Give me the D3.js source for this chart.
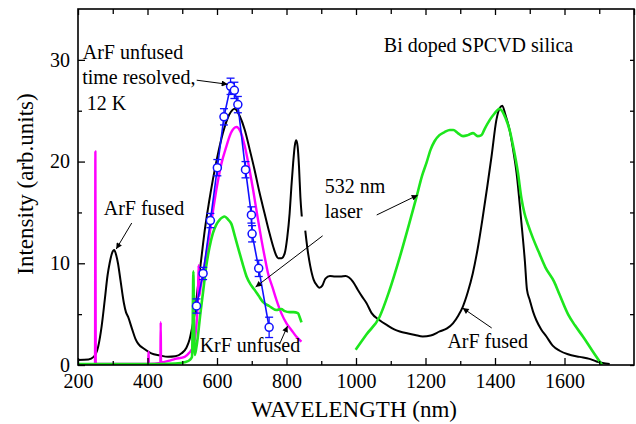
<!DOCTYPE html>
<html>
<head>
<meta charset="utf-8">
<script src="https://cdn.jsdelivr.net/npm/d3@7"></script>
<style>
  body { margin: 0; background: #fff; }
  text { font-family: "Liberation Serif", "Times New Roman", serif; fill: #000; }
</style>
</head>
<body>
<svg id="chart" width="636" height="424"></svg>
<script>
// ---- Spectra: [wavelength nm, intensity arb. units] ----
// ArF fused (black), UV + visible part
const arfFusedVis = [
  [200,0.5],[230,0.55],[245,0.8],[258,1.8],[268,3.8],[277,6.4],[285,8.8],[291,10.0],[298,11.0],[304,11.3],
  [310,10.8],[315,10.0],[322,8.4],[332,6.1],[338,5.2],[344,4.75],[355,3.6],[365,2.6],[373,2.1],[390,1.6],
  [411,1.15],[435,0.95],[459,0.8],[480,0.85],[498,1.15],[512,1.7],[521,2.5],[528,3.6],[536,5.1],[545,7.7],
  [555,10.5],[565,13.3],[577,16.0],[588,18.2],[600,20.3],[617,22.8],[635,24.6],[651,25.2],[665,24.5],[680,23.1],
  [694,21.2],[708,19.2],[722,17.0],[737,14.9],[750,13.1],[762,11.6],[770,10.8],[776,10.5],[786,10.5],[795,11.0],
  [802,12.5],[809,14.9],[814,17.5],[819,19.8],[824,21.6],[828,22.1],[832,21.5],[836,19.5],[840,16.5],[844,14.6]
];
// ArF fused (black), near-IR part
const arfFusedIR = [
  [854,13.2],[860,11.5],[868,9.8],[878,8.4],[888,7.8],[895,7.6],[903,7.8],[912,8.5],[925,8.75],[940,8.7],
  [955,8.7],[970,8.75],[980,8.6],[991,8.2],[1005,7.4],[1018,6.7],[1030,6.1],[1045,5.1],[1068,4.4],[1090,3.9],
  [1110,3.5],[1126,3.3],[1150,3.1],[1170,2.95],[1192,2.8],[1215,2.9],[1241,3.3],[1262,3.6],[1279,4.1],[1295,4.9],
  [1307,5.7],[1322,7.2],[1336,9.0],[1352,11.8],[1365,14.6],[1378,17.6],[1390,20.5],[1404,24.1],[1414,25.3],[1421,25.5],
  [1430,24.6],[1442,23.1],[1452,21.2],[1462,18.9],[1476,14.0],[1486,10.2],[1492,7.4],[1500,6.4],[1510,5.2],[1519,4.4],
  [1533,3.5],[1548,2.8],[1566,1.9],[1586,1.4],[1610,1.05],[1644,0.8],[1672,0.6],[1692,0.35],[1710,0.2],[1730,0.1]
];
// KrF unfused (magenta)
const krfUnfused = [
  [245,0.05],[249,0.1],[250,21.0],[251,0.3],[253,0.1],[300,0.1],[400,0.1],[402,0.1],[403,1.3],[404,0.1],
  [437,0.2],[438,4.2],[439,0.25],[460,0.4],[480,0.6],[507,0.8],[520,1.2],[531,1.8],[538,3.0],[545,6.4],
  [547,9.8],[549,6.8],[553,7.7],[560,9.0],[570,11.0],[579,12.95],[590,15.5],[598,17.2],[612,19.7],[627,21.5],
  [640,22.8],[656,23.4],[668,22.9],[680,21.5],[692,19.5],[704,17.2],[716,14.7],[728,12.3],[738,10.5],[747,9.0],
  [760,7.6],[771,6.4],[785,5.1],[800,4.1],[815,3.4],[828,2.8],[843,2.3]
];
// 532 nm laser excitation (green), visible part
const laser532Vis = [
  [200,0.1],[300,0.1],[400,0.1],[480,0.15],[510,0.3],[522,0.5],[528,0.8],[530,4.0],[532,9.2],[534,4.0],
  [536,1.0],[540,1.6],[545,2.8],[550,4.4],[560,7.2],[569,9.7],[578,11.5],[588,12.95],[598,13.8],[608,14.3],
  [615,14.5],[622,14.6],[632,14.3],[641,13.9],[652,12.6],[665,11.0],[675,9.8],[685,8.7],[697,7.9],[708,7.4],
  [720,6.8],[732,6.2],[750,5.8],[771,5.4],[785,5.5],[795,5.3],[809,5.2],[820,5.2],[833,5.1],[838,4.7],[843,4.2]
];
// 532 nm laser excitation (green), near-IR part
const laser532IR = [
  [999,1.5],[1030,3.0],[1068,4.75],[1095,7.2],[1126,10.6],[1150,13.5],[1174,16.5],[1190,18.6],[1203,19.9],[1215,21.2],
  [1226,22.0],[1240,22.6],[1255,22.9],[1270,23.1],[1280,23.1],[1293,22.8],[1308,22.5],[1322,22.6],[1337,22.8],[1350,22.5],
  [1361,22.6],[1370,23.2],[1385,24.1],[1398,24.7],[1413,25.2],[1420,25.0],[1430,24.3],[1442,23.1],[1454,21.2],[1466,18.9],
  [1476,16.4],[1485,14.9],[1495,13.8],[1510,12.4],[1526,11.1],[1545,9.6],[1570,8.2],[1586,6.9],[1610,5.0],[1630,3.9],
  [1653,2.8],[1680,1.4],[1708,0]
];
// ArF unfused, time resolved at 12 K (blue points with error bars)
const trWavelength = [541,560,581,601,620,639,650,660,682,699,701,720,750];
const trIntensity  = [5.8,9.0,14.2,19.4,24.4,27.4,27.0,25.6,19.2,14.75,12.9,9.5,3.7];
const trError      = [0.7,0.6,0.7,0.8,0.8,0.8,0.8,0.8,0.8,0.8,0.8,0.8,1.0];

// ---- Axis ticks ----
const xMajorTicks = [200,400,600,800,1000,1200,1400,1600];
const xMinorTicks = [300,500,700,900,1100,1300,1500,1700];
const yMajorTicks = [0,10,20,30];
const yMinorTicks = [5,15,25];

// ---- Layout ----
const svg = d3.select("#chart");
const W = 636, H = 424;
const plot = { left: 78, right: 634, top: 9, bottom: 365 };
svg.append("rect").attr("width", W).attr("height", H).attr("fill", "#fff");

const x = d3.scaleLinear().domain([200, 1800]).range([plot.left, plot.right]);
const y = d3.scaleLinear().domain([0, 35]).range([plot.bottom, plot.top]);

const defs = svg.append("defs");
defs.append("marker")
  .attr("id", "arrow").attr("viewBox", "0 0 10 10")
  .attr("refX", 10).attr("refY", 5)
  .attr("markerWidth", 9).attr("markerHeight", 6)
  .attr("markerUnits", "userSpaceOnUse")
  .attr("orient", "auto")
  .append("path").attr("d", "M0,0 L10,5 L0,10 Z").attr("fill", "#000");

const clip = defs.append("clipPath").attr("id", "plotclip")
  .append("rect").attr("x", plot.left).attr("y", plot.top)
  .attr("width", plot.right - plot.left).attr("height", plot.bottom - plot.top);

// ---- Curves ----
const line = d3.line().x(d => x(d[0])).y(d => y(d[1])).curve(d3.curveMonotoneX);
const g = svg.append("g").attr("clip-path", "url(#plotclip)");

const series = [
  { data: arfFusedVis, color: "#000000", width: 2 },
  { data: arfFusedIR,  color: "#000000", width: 2 },
  { data: krfUnfused,  color: "#ff00ff", width: 2.4 },
  { data: laser532Vis, color: "#1de61d", width: 2.6 },
  { data: laser532IR,  color: "#1de61d", width: 2.6 }
];
series.forEach(s => {
  g.append("path").datum(s.data)
    .attr("fill", "none").attr("stroke", s.color)
    .attr("stroke-width", s.width).attr("stroke-linejoin", "round")
    .attr("d", line);
});

// Time-resolved points
const tr = trWavelength.map((w, i) => ({ w, v: trIntensity[i], e: trError[i] }));
const blue = "#1010ff";
g.append("path").datum(tr)
  .attr("fill", "none").attr("stroke", blue).attr("stroke-width", 1.6)
  .attr("d", d3.line().x(d => x(d.w)).y(d => y(d.v)));
const eb = g.append("g").attr("stroke", blue).attr("stroke-width", 1.3);
tr.forEach(d => {
  eb.append("line").attr("x1", x(d.w)).attr("x2", x(d.w)).attr("y1", y(d.v - d.e)).attr("y2", y(d.v + d.e));
  [d.v - d.e, d.v + d.e].forEach(v =>
    eb.append("line").attr("x1", x(d.w) - 4).attr("x2", x(d.w) + 4).attr("y1", y(v)).attr("y2", y(v)));
});
g.selectAll("circle.tr").data(tr).join("circle")
  .attr("class", "tr")
  .attr("cx", d => x(d.w)).attr("cy", d => y(d.v)).attr("r", 4)
  .attr("fill", "#fff").attr("stroke", blue).attr("stroke-width", 1.5);

// ---- Axes (ticks point inward on all four sides) ----
const fs = "20px";
const axB = svg.append("g").attr("transform", `translate(0,${plot.bottom})`)
  .call(d3.axisBottom(x).tickValues(xMajorTicks).tickSize(-7).tickPadding(9).tickFormat(d3.format("d")));
svg.append("g").attr("transform", `translate(0,${plot.bottom})`)
  .call(d3.axisBottom(x).tickValues(xMinorTicks).tickSize(-4).tickFormat(""));
svg.append("g").attr("transform", `translate(0,${plot.top})`)
  .call(d3.axisTop(x).tickValues(xMajorTicks.concat([1800])).tickSize(-6).tickFormat(""));
svg.append("g").attr("transform", `translate(0,${plot.top})`)
  .call(d3.axisTop(x).tickValues(xMinorTicks).tickSize(-5).tickFormat(""));

svg.append("g").attr("transform", `translate(${plot.left},0)`)
  .call(d3.axisLeft(y).tickValues(yMajorTicks).tickSize(-7).tickPadding(8).tickFormat(d3.format("d")));
svg.append("g").attr("transform", `translate(${plot.left},0)`)
  .call(d3.axisLeft(y).tickValues(yMinorTicks).tickSize(-4).tickFormat(""));
svg.append("g").attr("transform", `translate(${plot.right},0)`)
  .call(d3.axisRight(y).tickValues(yMajorTicks.concat(yMinorTicks)).tickSize(-4).tickFormat(""));

svg.selectAll(".domain").remove();
svg.selectAll(".tick line").attr("stroke", "#000").attr("stroke-width", 1.3);
svg.selectAll(".tick text").style("font-size", fs).style("font-family", '"Liberation Serif","Times New Roman",serif').attr("fill", "#000");

// frame
svg.append("rect")
  .attr("x", plot.left).attr("y", plot.top)
  .attr("width", plot.right - plot.left).attr("height", plot.bottom - plot.top)
  .attr("fill", "none").attr("stroke", "#000").attr("stroke-width", 1.6);

// axis titles
svg.append("text")
  .attr("x", (plot.left + plot.right) / 2 - 2).attr("y", 417)
  .attr("text-anchor", "middle").style("font-size", "23px")
  .text("WAVELENGTH (nm)");
svg.append("text")
  .attr("transform", `translate(33,${(plot.top + plot.bottom) / 2 - 3}) rotate(-90)`)
  .attr("text-anchor", "middle").style("font-size", "23px")
  .text("Intensity (arb.units)");

// ---- Annotations (positions in data units) ----
const notes = [
  { t: "ArF unfused", w: 213.5, v: 30.1 },
  { t: "time resolved,", w: 212, v: 27.6 },
  { t: "12 K", w: 225, v: 25.1 },
  { t: "ArF fused", w: 274, v: 14.75 },
  { t: "532 nm", w: 910, v: 16.9 },
  { t: "laser", w: 910, v: 14.45 },
  { t: "KrF unfused", w: 550, v: 1.28 },
  { t: "ArF fused", w: 1263, v: 1.67 },
  { t: "Bi doped SPCVD silica", w: 1080, v: 30.8 }
];
svg.append("g").selectAll("text").data(notes).join("text")
  .attr("x", d => x(d.w)).attr("y", d => y(d.v))
  .style("font-size", "20px").text(d => d.t);

const arrows = [
  [541.6, 28.0, 630.8, 27.6],
  [354.6, 13.96, 310, 11.4],
  [1059.6, 14.75, 1177.6, 16.7],
  [904, 12.7, 711, 7.67],
  [780, 2.06, 803, 3.83],
  [1390.5, 3.64, 1307, 5.6]
];
svg.append("g").selectAll("line").data(arrows).join("line")
  .attr("x1", d => x(d[0])).attr("y1", d => y(d[1]))
  .attr("x2", d => x(d[2])).attr("y2", d => y(d[3]))
  .attr("stroke", "#000").attr("stroke-width", 1)
  .attr("marker-end", "url(#arrow)");
</script>
</body>
</html>
